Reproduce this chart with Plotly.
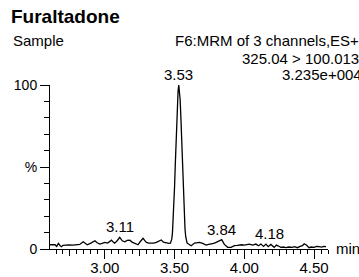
import plotly.graph_objects as go

# ---- data ----
times = [2.607, 2.625, 2.643, 2.655, 2.667, 2.68, 2.69, 2.70, 2.714, 2.74, 2.77, 2.80, 2.82,
         2.845, 2.86, 2.874, 2.90, 2.929, 2.945, 2.964, 2.98, 3.00, 3.02, 3.048, 3.06, 3.071,
         3.09, 3.107, 3.125, 3.143, 3.16, 3.179, 3.195, 3.214, 3.238, 3.255, 3.274, 3.29, 3.298,
         3.315, 3.333, 3.35, 3.369, 3.385, 3.405, 3.42, 3.44, 3.46, 3.47,
         3.476, 3.48, 3.485, 3.49, 3.495, 3.50, 3.505, 3.51, 3.515, 3.52, 3.525, 3.53, 3.535,
         3.54, 3.545, 3.55, 3.555, 3.56, 3.565, 3.57, 3.575, 3.58, 3.585, 3.59, 3.60,
         3.619, 3.643, 3.66, 3.679, 3.702, 3.726, 3.745, 3.762, 3.78, 3.798, 3.821, 3.838,
         3.857, 3.87, 3.881, 3.905, 3.929, 3.95, 3.964, 3.98, 4.00, 4.02, 4.036, 4.06, 4.083,
         4.102, 4.119, 4.138, 4.155, 4.171, 4.19, 4.214, 4.23, 4.245, 4.262, 4.28, 4.298,
         4.32, 4.345, 4.36, 4.381, 4.40, 4.417, 4.429, 4.445, 4.464, 4.48, 4.50, 4.518,
         4.536, 4.555, 4.571, 4.586]
intensity = [2.6, 2.8, 2.6, 1.6, 3.4, 2.0, 1.4, 2.2, 2.4, 2.5, 2.4, 2.6, 2.8,
             4.4, 3.2, 2.6, 3.6, 5.0, 3.8, 3.0, 3.4, 4.0, 3.6, 5.4, 4.2, 3.6,
             5.2, 7.1, 5.0, 4.4, 5.2, 5.4, 4.2, 3.4, 2.6, 4.6, 6.5, 4.8, 4.0,
             3.6, 3.4, 3.6, 4.0, 4.8, 5.5, 4.2, 3.6, 3.4, 3.5,
             4.5, 6, 10, 17, 26, 38, 51, 64, 77, 88, 96, 100, 97,
             91, 81, 68, 54, 41, 29, 19, 12, 7.5, 5, 3.6, 3.0,
             2.0, 3.6, 3.8, 4.0, 3.4, 2.4, 2.8, 3.0, 3.4, 4.0, 4.8, 5.7,
             2.8, 1.6, 1.0, 1.0, 2.0, 2.2, 2.4, 2.6, 2.4, 2.8, 3.0, 2.4, 3.0,
             2.0, 3.0, 1.6, 3.0, 1.4, 2.8, 1.0, 2.4, 1.8, 1.0, 1.2, 0.8,
             1.2, 1.0, 1.4, 0.8, 1.6, 2.0, 3.2, 2.4, 0.8, 1.2, 1.0, 1.6,
             1.4, 1.2, 1.6, 1.4]

peak_labels = ["3.11", "3.53", "3.84", "4.18"]
peak_times = [3.11, 3.53, 3.84, 4.18]
peak_heights = [7.1, 100, 5.7, 3.0]

x_tick_vals = [3.0, 3.5, 4.0, 4.5]
x_tick_text = ["3.00", "3.50", "4.00", "4.50"]
y_tick_vals = [0, 50, 100]
y_tick_text = ["0", "%", "100"]

title_text = "Furaltadone"
sample_text = "Sample"
header_lines = ["F6:MRM of 3 channels,ES+", "325.04 > 100.013", "3.235e+004"]

FONT = "Liberation Sans, Arial, sans-serif"
W, H = 359, 277
SX0, SX1, SY0, SY1 = 50, 328, 85, 249   # plot area in pixels
L, T = SX0, SY0
R, B = W - SX1, H - SY1
PW, PH = SX1 - SX0, SY1 - SY0


def px(x):
    return (x - SX0) / PW


def py(y):
    return (SY1 - y) / PH


fig = go.Figure()
fig.add_trace(go.Scatter(x=times, y=intensity, mode="lines",
                         line=dict(color="black", width=1.3), cliponaxis=False,
                         hoverinfo="skip", showlegend=False))

annotations = []
annotations.append(dict(text="<b>%s</b>" % title_text, x=px(9), y=py(16.5), xref="paper", yref="paper",
                        xanchor="left", yanchor="middle", showarrow=False,
                        font=dict(family=FONT, size=19, color="black")))
annotations.append(dict(text=sample_text, x=px(11), y=py(40), xref="paper", yref="paper",
                        xanchor="left", yanchor="middle", showarrow=False,
                        font=dict(family=FONT, size=15, color="black")))
for txt, xl, yc in zip(header_lines, [172.5, 240, 280], [40, 58, 74.5]):
    annotations.append(dict(text=txt, x=px(xl), y=py(yc), xref="paper", yref="paper",
                            xanchor="left", yanchor="middle", showarrow=False,
                            font=dict(family=FONT, size=15, color="black")))
for lab, t, h in zip(peak_labels, peak_times, peak_heights):
    annotations.append(dict(text=lab, x=t, y=h, xref="x", yref="y",
                            xanchor="center", yanchor="bottom", showarrow=False,
                            font=dict(family=FONT, size=15, color="black")))
annotations.append(dict(text="min", x=px(334), y=py(248), xref="paper", yref="paper",
                        xanchor="left", yanchor="middle", showarrow=False,
                        font=dict(family=FONT, size=15, color="black")))

tick_common = dict(showgrid=False, zeroline=False, tickcolor="black", tickwidth=1,
                   automargin=False)
fig.update_layout(
    template="none",
    width=W, height=H,
    margin=dict(l=L, r=R, t=T, b=B, autoexpand=False),
    paper_bgcolor="white", plot_bgcolor="white",
    showlegend=False,
    annotations=annotations,
    # labelled axis: short ticks so the labels sit close to the axis
    xaxis=dict(range=[2.607, 4.60], showline=True, linecolor="black", linewidth=1,
               ticks="outside", ticklen=5,
               tickvals=x_tick_vals, ticktext=x_tick_text,
               tickfont=dict(family=FONT, size=15, color="black"), **tick_common),
    # long major ticks every 0.5 min
    xaxis4=dict(overlaying="x", matches="x", anchor="y", side="bottom", showline=False,
                ticks="outside", tickmode="linear", dtick=0.5, tick0=0, ticklen=9,
                showticklabels=False, **tick_common),
    # medium ticks every 0.25 min
    xaxis2=dict(overlaying="x", matches="x", anchor="y", side="bottom", showline=False,
                ticks="outside", tickmode="linear", dtick=0.25, tick0=0, ticklen=6,
                showticklabels=False, **tick_common),
    # minor ticks every 0.05 min
    xaxis3=dict(overlaying="x", matches="x", anchor="y", side="bottom", showline=False,
                ticks="outside", tickmode="linear", dtick=0.05, tick0=0, ticklen=4,
                showticklabels=False, **tick_common),
    yaxis=dict(range=[0, 100], showline=True, linecolor="black", linewidth=1,
               ticks="outside", ticklen=9,
               tickvals=y_tick_vals, ticktext=y_tick_text,
               tickfont=dict(family=FONT, size=14, color="black"), **tick_common),
    yaxis2=dict(overlaying="y", matches="y", anchor="x", side="left", showline=False,
                ticks="outside", tickmode="linear", dtick=10, tick0=0, ticklen=5,
                showticklabels=False, **tick_common),
)
for xa, ya in [("x2", "y"), ("x3", "y"), ("x4", "y"), ("x", "y2")]:
    fig.add_trace(go.Scatter(x=[times[0]], y=[intensity[0]], xaxis=xa, yaxis=ya,
                             mode="markers", marker=dict(opacity=0), hoverinfo="skip",
                             showlegend=False))

fig.write_html("out.html", config=dict(displayModeBar=False, staticPlot=True),
               post_script="document.body.style.margin='0';document.body.style.overflow='hidden';")
